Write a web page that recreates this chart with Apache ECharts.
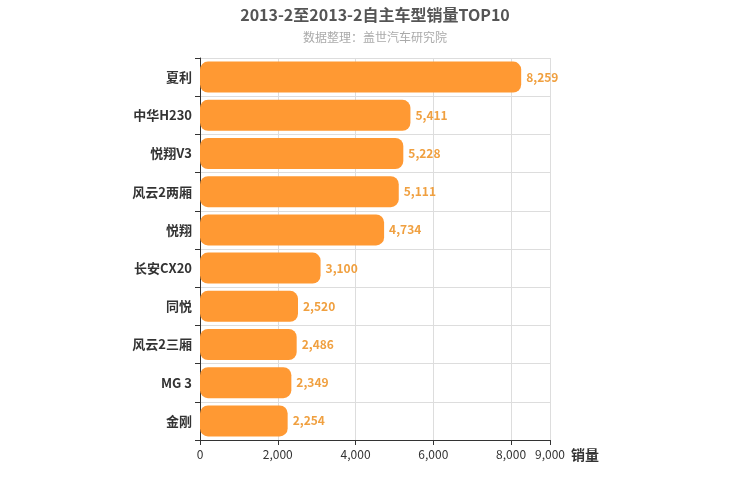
<!DOCTYPE html>
<html>
<head>
<meta charset="utf-8">
<script src="https://cdn.jsdelivr.net/npm/echarts@6/dist/echarts.min.js"></script>
<style>html,body{margin:0;padding:0;background:#fff}#main{width:750px;height:500px}</style>
</head>
<body>
<div id="main"></div>
<script>
var categories = ['夏利', '中华H230', '悦翔V3', '风云2两厢', '悦翔', '长安CX20', '同悦', '风云2三厢', 'MG 3', '金刚'];
var sales = [8259, 5411, 5228, 5111, 4734, 3100, 2520, 2486, 2349, 2254];

var myChart = echarts.init(document.getElementById('main'));
var option = {
	textStyle : { fontFamily : 'Noto Sans CJK SC' },
	title : {
		text : '2013-2至2013-2自主车型销量TOP10',
		subtext : '数据整理：盖世汽车研究院',
		left : 'center',
		top : 2,
		itemGap : 8,
		textStyle : { fontSize : 16, fontWeight : 'bold', color : '#555' },
		subtextStyle : { fontSize : 12, color : '#aaa' }
	},
	grid : { left : 200, right : 200, top : 58, bottom : 60 },
	xAxis : {
		type : 'value',
		min : 0,
		max : 9000,
		interval : 2000,
		name : '销量',
		nameLocation : 'end',
		nameGap : 15,
		nameTextStyle : { fontSize : 14, fontWeight : 'bold', color : '#333', verticalAlign : 'top', padding : [8, 0, 0, 0] },
		axisLine : { show : true, lineStyle : { color : '#333' } },
		axisTick : { show : true, lineStyle : { color : '#333' } },
		axisLabel : { color : '#333', fontSize : 12, showMaxLabel : true, formatter : function(v) { return v.toLocaleString('en-US'); } },
		splitLine : { lineStyle : { color : '#ddd' } }
	},
	yAxis : {
		type : 'category',
		data : categories,
		inverse : true,
		axisLine : { lineStyle : { color : '#333' } },
		axisTick : { show : true, alignWithLabel : false },
		axisLabel : { color : '#333', fontSize : 13, fontWeight : 'bold' },
		splitLine : { show : true, lineStyle : { color : '#ddd' } }
	},
	series : [ {
		type : 'bar',
		data : sales,
		barWidth : 31,
		itemStyle : { color : '#ff9933', borderRadius : 8 },
		label : {
			show : true,
			position : 'right',
			color : '#f0a040',
			fontSize : 12,
			fontWeight : 'bold',
			formatter : function(p) { return p.value.toLocaleString('en-US'); }
		}
	} ]
};
myChart.setOption(option);
</script>
</body>
</html>
